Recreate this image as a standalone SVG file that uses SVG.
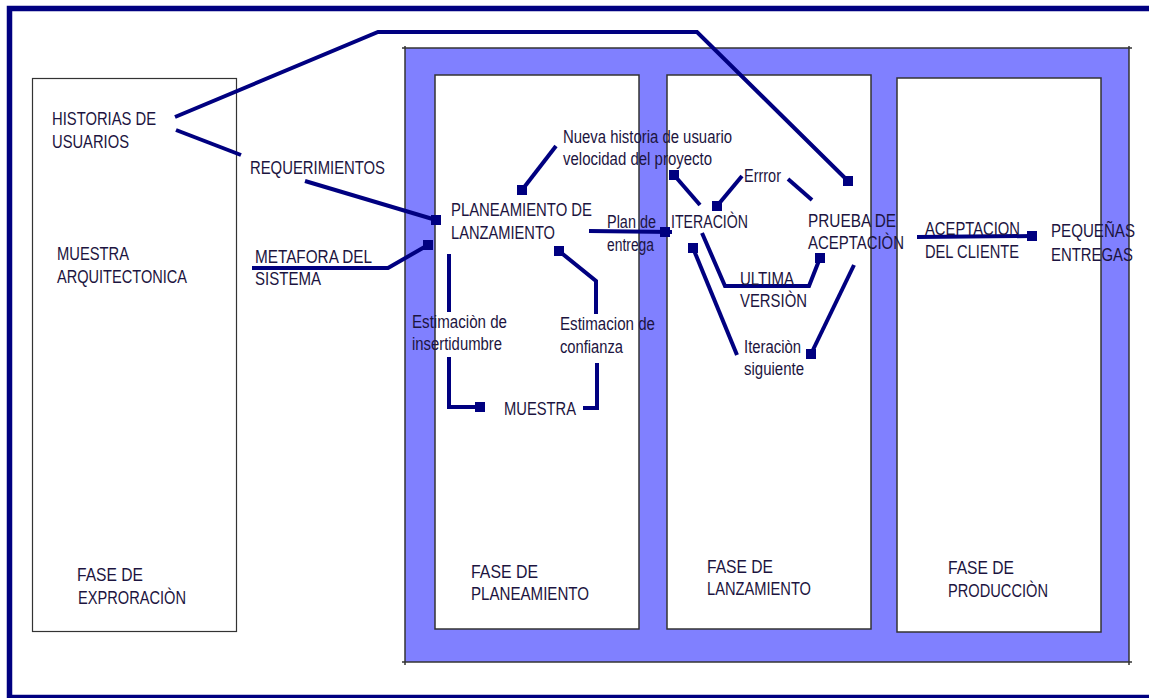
<svg xmlns="http://www.w3.org/2000/svg" width="1149" height="698" viewBox="0 0 1149 698">
  <style>
    .t { font-family: "Liberation Sans", Arial, sans-serif; font-size: 17.5px; fill: #1c1440; }
    .box { fill: #ffffff; stroke: #333333; stroke-width: 1.5; }
    .edge { fill: none; stroke: #000080; stroke-width: 4; stroke-linejoin: miter; }
    .end { fill: #000080; }
    .rim { stroke: #333333; stroke-width: 1.5; }
  </style>
  <defs>
    <rect id="sq" x="-5" y="-5" width="10" height="10" class="end"/>
  </defs>

  <rect x="0" y="0" width="1149" height="698" fill="#ffffff"/>

  <!-- outer frame -->
  <rect id="frame" x="9.5" y="8.5" width="1160" height="689" fill="none" stroke="#000080" stroke-width="5.5"/>

  <!-- exploration phase -->
  <g id="fase-exploracion">
    <rect x="32.5" y="78.5" width="204" height="553" fill="#ffffff" stroke="#333333" stroke-width="1.2"/>
    <text class="t" x="77" y="581" textLength="66" lengthAdjust="spacingAndGlyphs">FASE DE</text>
    <text class="t" x="78" y="604" textLength="108" lengthAdjust="spacingAndGlyphs">EXPRORACIÒN</text>
  </g>

  <!-- blue panel holding the three later phases -->
  <g id="panel">
    <rect x="405" y="48" width="724" height="614" fill="#8080ff"/>
    <line class="rim" x1="402" y1="48" x2="1132" y2="48"/>
    <line class="rim" x1="402" y1="662" x2="1132" y2="662"/>
    <line class="rim" x1="405" y1="46" x2="405" y2="665"/>
    <line class="rim" x1="1129" y1="46" x2="1129" y2="665"/>
  </g>

  <g id="fase-planeamiento">
    <rect class="box" x="435" y="75" width="204" height="554"/>
    <text class="t" x="471" y="578" textLength="67" lengthAdjust="spacingAndGlyphs">FASE DE</text>
    <text class="t" x="471" y="600" textLength="118" lengthAdjust="spacingAndGlyphs">PLANEAMIENTO</text>
  </g>

  <g id="fase-lanzamiento">
    <rect class="box" x="667" y="75" width="204" height="554"/>
    <text class="t" x="707" y="573" textLength="66" lengthAdjust="spacingAndGlyphs">FASE DE</text>
    <text class="t" x="707" y="595" textLength="104" lengthAdjust="spacingAndGlyphs">LANZAMIENTO</text>
  </g>

  <g id="fase-produccion">
    <rect class="box" x="897" y="78" width="204" height="554"/>
    <text class="t" x="948" y="574" textLength="66" lengthAdjust="spacingAndGlyphs">FASE DE</text>
    <text class="t" x="948" y="597" textLength="100" lengthAdjust="spacingAndGlyphs">PRODUCCIÒN</text>
  </g>

  <!-- connectors -->
  <g id="connectors">
    <polyline class="edge" stroke-width="3.5" points="175,117 378,32 697,32 848,181"/>
    <use href="#sq" x="848" y="181"/>

    <line class="edge" x1="176" y1="130" x2="241" y2="155"/>

    <line class="edge" x1="305" y1="181" x2="436" y2="220"/>
    <use href="#sq" x="436" y="220"/>

    <polyline class="edge" points="252,268 388,268 428,245"/>
    <use href="#sq" x="428" y="245"/>

    <line class="edge" x1="556" y1="146" x2="522" y2="190"/>
    <use href="#sq" x="522" y="190"/>

    <line class="edge" x1="589" y1="231" x2="672" y2="232"/>
    <use href="#sq" x="665" y="232"/>

    <line class="edge" x1="449" y1="254" x2="449" y2="312"/>
    <polyline class="edge" points="449,357 449,407 480,407"/>
    <use href="#sq" x="480" y="407"/>

    <polyline class="edge" points="559,251 596,281 596,314"/>
    <use href="#sq" x="559" y="251"/>
    <polyline class="edge" points="597,363 597,408 583,408"/>

    <line class="edge" x1="674" y1="175" x2="700" y2="205"/>
    <use href="#sq" x="674" y="175"/>
    <line class="edge" x1="717" y1="206" x2="742" y2="176"/>
    <use href="#sq" x="717" y="206"/>
    <line class="edge" x1="788" y1="179" x2="812" y2="200"/>

    <polyline class="edge" points="702,233 725,286 809,286 820,258"/>
    <use href="#sq" x="820" y="258"/>

    <line class="edge" x1="693" y1="248" x2="737" y2="355"/>
    <use href="#sq" x="693" y="248"/>

    <line class="edge" x1="854" y1="265" x2="811" y2="354"/>
    <use href="#sq" x="811" y="354"/>

    <line class="edge" x1="917" y1="237" x2="1032" y2="236"/>
    <use href="#sq" x="1032" y="236"/>
  </g>

  <!-- labels -->
  <g id="historias">
    <text class="t" x="52" y="125" textLength="104" lengthAdjust="spacingAndGlyphs">HISTORIAS DE</text>
    <text class="t" x="52" y="148" textLength="77" lengthAdjust="spacingAndGlyphs">USUARIOS</text>
  </g>
  <g id="requerimientos">
    <text class="t" x="250" y="174" textLength="135" lengthAdjust="spacingAndGlyphs">REQUERIMIENTOS</text>
  </g>
  <g id="muestra-arquitectonica">
    <text class="t" x="57" y="260" textLength="72" lengthAdjust="spacingAndGlyphs">MUESTRA</text>
    <text class="t" x="57" y="283" textLength="130" lengthAdjust="spacingAndGlyphs">ARQUITECTONICA</text>
  </g>
  <g id="metafora">
    <text class="t" x="255" y="263" textLength="117" lengthAdjust="spacingAndGlyphs">METAFORA DEL</text>
    <text class="t" x="255" y="285" textLength="66" lengthAdjust="spacingAndGlyphs">SISTEMA</text>
  </g>
  <g id="planeamiento-lanzamiento">
    <text class="t" x="451" y="216" textLength="141" lengthAdjust="spacingAndGlyphs">PLANEAMIENTO DE</text>
    <text class="t" x="451" y="239" textLength="104" lengthAdjust="spacingAndGlyphs">LANZAMIENTO</text>
  </g>
  <g id="nueva-historia">
    <text class="t" x="563" y="143" textLength="169" lengthAdjust="spacingAndGlyphs">Nueva historia de usuario</text>
    <text class="t" x="563" y="165" textLength="149" lengthAdjust="spacingAndGlyphs">velocidad del proyecto</text>
  </g>
  <g id="plan-entrega">
    <text class="t" x="607" y="228" textLength="49" lengthAdjust="spacingAndGlyphs">Plan de</text>
    <text class="t" x="607" y="251" textLength="47" lengthAdjust="spacingAndGlyphs">entrega</text>
  </g>
  <g id="estimacion-insertidumbre">
    <text class="t" x="412" y="328" textLength="95" lengthAdjust="spacingAndGlyphs">Estimaciòn de</text>
    <text class="t" x="412" y="350" textLength="90" lengthAdjust="spacingAndGlyphs">insertidumbre</text>
  </g>
  <g id="estimacion-confianza">
    <text class="t" x="560" y="330" textLength="95" lengthAdjust="spacingAndGlyphs">Estimacion de</text>
    <text class="t" x="560" y="353" textLength="63" lengthAdjust="spacingAndGlyphs">confianza</text>
  </g>
  <g id="muestra">
    <text class="t" x="504" y="415" textLength="72" lengthAdjust="spacingAndGlyphs">MUESTRA</text>
  </g>
  <g id="iteracion">
    <text class="t" x="671" y="228" textLength="77" lengthAdjust="spacingAndGlyphs">ITERACIÒN</text>
  </g>
  <g id="error">
    <text class="t" x="744" y="182" textLength="37" lengthAdjust="spacingAndGlyphs">Errror</text>
  </g>
  <g id="prueba-aceptacion">
    <text class="t" x="808" y="227" textLength="88" lengthAdjust="spacingAndGlyphs">PRUEBA DE</text>
    <text class="t" x="808" y="249" textLength="96" lengthAdjust="spacingAndGlyphs">ACEPTACIÒN</text>
  </g>
  <g id="ultima-version">
    <text class="t" x="740" y="285" textLength="54" lengthAdjust="spacingAndGlyphs">ULTIMA</text>
    <text class="t" x="740" y="307" textLength="67" lengthAdjust="spacingAndGlyphs">VERSIÒN</text>
  </g>
  <g id="iteracion-siguiente">
    <text class="t" x="744" y="353" textLength="57" lengthAdjust="spacingAndGlyphs">Iteraciòn</text>
    <text class="t" x="744" y="375" textLength="60" lengthAdjust="spacingAndGlyphs">siguiente</text>
  </g>
  <g id="aceptacion-cliente">
    <text class="t" x="925" y="235" textLength="95" lengthAdjust="spacingAndGlyphs">ACEPTACION</text>
    <text class="t" x="925" y="258" textLength="94" lengthAdjust="spacingAndGlyphs">DEL CLIENTE</text>
  </g>
  <g id="pequenas-entregas">
    <text class="t" x="1051" y="237" textLength="84" lengthAdjust="spacingAndGlyphs">PEQUEÑAS</text>
    <text class="t" x="1051" y="261" textLength="82" lengthAdjust="spacingAndGlyphs">ENTREGAS</text>
  </g>
</svg>
